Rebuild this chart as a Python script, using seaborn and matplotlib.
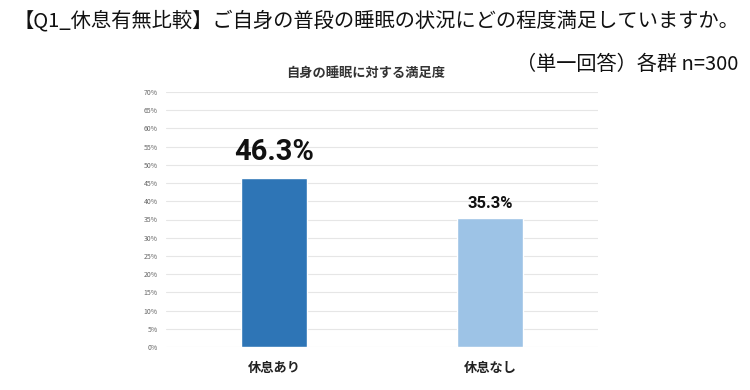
import matplotlib
matplotlib.use("Agg")
import matplotlib.pyplot as plt
import seaborn as sns
import pandas as pd
from matplotlib.ticker import FuncFormatter

categories = ["休息あり", "休息なし"]
values = [46.3, 35.3]
value_labels = ["46.3%", "35.3%"]
colors = ["#2E75B6", "#9DC3E6"]
yticks = list(range(0, 71, 5))

sns.set_theme(style="white")
plt.rcParams['font.family'] = ['Noto Sans CJK JP', 'DejaVu Sans']

df = pd.DataFrame({"cat": categories, "val": values})

fig = plt.figure(figsize=(7.5, 3.9), dpi=100)
ax = fig.add_axes([166/750, 1-347/390, (598-166)/750, (347-92)/390])

sns.barplot(data=df, x="cat", y="val", hue="cat", palette=colors, width=0.31,
            legend=False, ax=ax, saturation=1)

ax.set_xlim(-0.5, 1.5)
ax.set_ylim(0, 70)
ax.set_yticks(yticks)
ax.yaxis.set_major_formatter(FuncFormatter(lambda v, p: f"{int(v)}%"))
ax.tick_params(axis='y', labelsize=5, labelcolor="#666666", length=0, pad=6)
ax.tick_params(axis='x', labelsize=9.5, length=0, pad=10)
for lab in ax.get_xticklabels():
    lab.set_fontweight("bold")
    lab.set_color("#222222")
ax.grid(axis='y', color="#e6e6e6", linewidth=0.8)
ax.set_axisbelow(True)
for s in ax.spines.values():
    s.set_visible(False)
ax.set_xlabel("")
ax.set_ylabel("")

sizes = [21, 12]
offs = [3.5, 2.0]
for i, (v, lbl) in enumerate(zip(values, value_labels)):
    ax.text(i, v + offs[i], lbl, ha="center", va="bottom", fontsize=sizes[i],
            fontweight="bold", color="#111111", family=['Roboto', 'DejaVu Sans'])

fig.text(376/750, 1-21/390, "【Q1_休息有無比較】ご自身の普段の睡眠の状況にどの程度満足していますか。",
         ha="center", va="center", fontsize=14.6, color="#111111")
fig.text(738/750, 1-64/390, "（単一回答）各群 n=300", ha="right", va="center",
         fontsize=14.5, color="#111111")
fig.text(366/750, 1-73/390, "自身の睡眠に対する満足度", ha="center", va="center",
         fontsize=9.5, fontweight="bold", color="#333333")

fig.savefig("out.png", dpi=100)
